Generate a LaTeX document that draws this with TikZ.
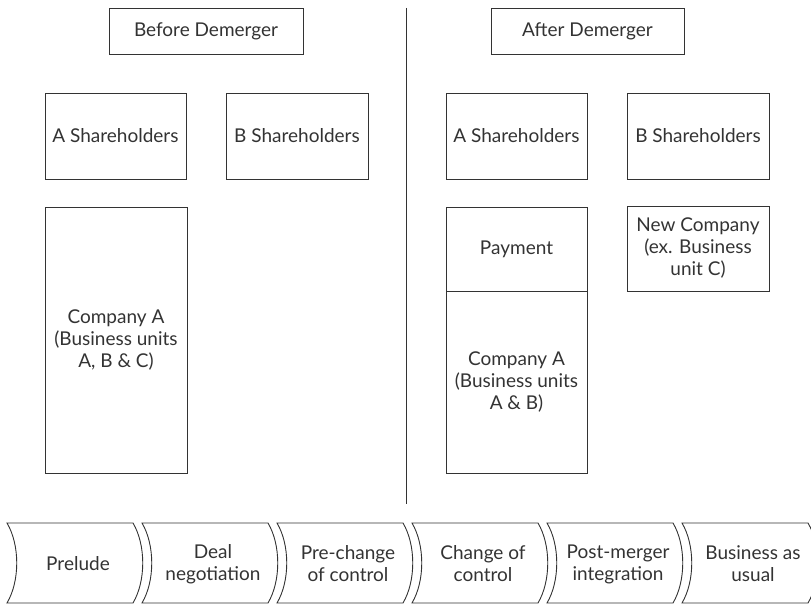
\documentclass[tikz,border=0pt]{standalone}
\usepackage{fontspec}
\setmainfont{Lato}
\begin{document}
\begin{tikzpicture}[x=1pt,y=-1pt,
  every node/.style={font=\fontsize{19}{22}\selectfont, text=black!80},
  box/.style={draw=black!80, line width=0.9pt},
  lbl/.style={align=center, inner sep=0pt},
  chev/.style={draw=black!80, line width=0.9pt}]
\useasboundingbox (0,0) rectangle (811,604);
% boxes
\draw[box] (109,8) rectangle (303,54);
\node[lbl] (before) at (206,31) {Before Demerger};
\draw[box] (491,8) rectangle (684,54);
\node[lbl] (after) at (587.5,31) {After Demerger};

\draw[box] (45,93) rectangle (186,179);
\node[lbl] (ash1) at (115.5,136) {A Shareholders};
\draw[box] (226,93) rectangle (368,179);
\node[lbl] (bsh1) at (297,136) {B Shareholders};
\draw[box] (446,93) rectangle (587,179);
\node[lbl] (ash2) at (516.5,136) {A Shareholders};
\draw[box] (627,93) rectangle (769,179);
\node[lbl] (bsh2) at (698,136) {B Shareholders};

\draw[box] (45,207) rectangle (187,473);
\node[lbl] (compa1) at (116,340) {Company A\\(Business units\\A, B \& C)};

\draw[box] (446,207) rectangle (587,291);
\node[lbl] (pay) at (516.5,249) {Payment};
\draw[box] (446,291) rectangle (587,473);
\node[lbl] (compa2) at (516.5,382) {Company A\\(Business units\\A \& B)};
\draw[box] (627,206) rectangle (769,291);
\node[lbl] (newco) at (698,248.5) {New Company\\(ex. Business\\unit C)};

% divider
\coordinate (dtop) at (406,8);
\coordinate (dbot) at (406,504);
\draw[line width=0.9pt, black!80] (dtop) -- (dbot);

% chevrons
\foreach \i/\txt in {0/Prelude,1/Deal\\negotiation,2/Pre-change\\of control,3/Change of\\control,4/Post-merger\\integration,5/Business as\\usual}{
  \pgfmathsetmacro{\L}{7+135*\i}
  \pgfmathsetmacro{\R}{\L+126}
  \draw[chev] (\L,523) -- (\R,523) .. controls (\R+13,545) and (\R+13,581) .. (\R,603)
    -- (\L,603) .. controls (\L+13,581) and (\L+13,545) .. (\L,523) -- cycle;
  \node[lbl] (ph\i) at (\L+71,564) {\txt};
}
\end{tikzpicture}
\end{document}
